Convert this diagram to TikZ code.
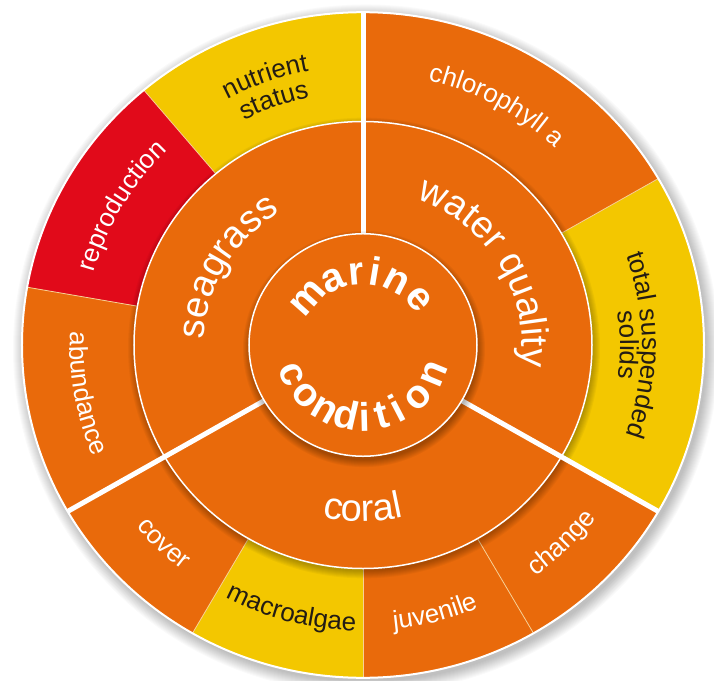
\documentclass[tikz,border=0pt]{standalone}
\usepackage{fontspec}
\setmainfont{Liberation Sans}
\usetikzlibrary{decorations.text}
\definecolor{org}{RGB}{233,106,11}
\definecolor{yel}{RGB}{243,199,0}
\definecolor{rd}{RGB}{225,10,26}
\definecolor{sepc}{RGB}{247,208,150}
\definecolor{dk}{RGB}{35,28,20}
\newcommand\ringA{\fontsize{26}{26}\selectfont}
\newcommand\ringB{\fontsize{38}{38}\selectfont}
\newcommand\txtcw[5]{\path[decorate,decoration={text along path,text align=center,text={|\color{#4}#3|#5}}] ({#1+70}:#2) arc[start angle={#1+70},end angle={#1-70},radius=#2];}
\newcommand\txtccw[5]{\path[decorate,decoration={text along path,text align=center,text={|\color{#4}#3|#5}}] ({#1-70}:#2) arc[start angle={#1-70},end angle={#1+70},radius=#2];}
\newcommand\sector[3]{\fill[#1] (0,0) -- (#2:341) arc[start angle=#2,end angle=#3,radius=341] -- cycle;}
\tikzset{
  ctrtxt/.style={text=white,font=\fontsize{40}{40}\selectfont\bfseries,inner sep=0pt},
  thinsep/.style={draw=sepc,line width=0.8pt},
  thicksep/.style={draw=white,line width=5pt},
  ringline/.style={draw=white,line width=1.5pt}
}
\begin{document}
\begin{tikzpicture}[x=1pt,y=0.976pt]
\fill[white] (-363pt,-335pt) rectangle (351pt,345pt);
\useasboundingbox (-363pt,-335pt) rectangle (351pt,345pt);
% outer shadow
\foreach \i in {0,...,12} \fill[black,opacity=0.02] (3pt,-4pt) circle[radius={341+\i}];
% outer ring sectors
\sector{yel}{-30}{30}
\sector{org}{30}{90}
\sector{yel}{90}{130}
\sector{rd}{130}{170}
\sector{org}{170}{210}
\sector{org}{210}{240}
\sector{yel}{240}{270}
\sector{org}{270}{300}
\sector{org}{300}{330}
\foreach \a in {30,130,170,240,270,300} \draw[thinsep] (\a:229) -- (\a:341);
% middle ring
\foreach \i in {0,...,7} \fill[black,opacity=0.035] (1pt,-3pt) circle[radius={229+\i}];
\fill[org] (0,0) circle[radius=229];
\draw[ringline] (0,0) circle[radius=229];
\foreach \a in {90,210,330} \draw[thicksep] (\a:110) -- (\a:341);
% inner disc
\foreach \i in {0,...,7} \fill[black,opacity=0.04] (1pt,-4pt) circle[radius={114+\i}];
\fill[org] (0,0) circle[radius=114];
\draw[ringline] (0,0) circle[radius=114];
\draw[white,line width=2pt] (0,0) circle[radius=341];
% centre text
\foreach \a/\c [count=\k] in {138.5/m,114/a,95/r,80.5/i,62.5/n,40/e}
  \node[ctrtxt,rotate=\a-90,anchor=base] (mar\k) at (\a:62) {\c};
\foreach \a/\c [count=\k] in {203/c,222/o,240/n,257/d,271.5/i,284.5/t,297.5/i,316/o,337.5/n}
  \node[ctrtxt,rotate=\a+90,anchor=base] (con\k) at (\a:88) {\c};
% middle ring labels
\txtcw{150}{159}{\ringB}{white}{seagrass}
\txtcw{31}{159}{\ringB}{white}{water quality}
\txtccw{270}{181}{\ringB}{white}{coral}
% outer ring labels
\txtcw{61}{279}{\ringA}{white}{chlorophyll a}
\txtcw{110}{286}{\ringA}{dk}{nutrient}
\txtcw{110}{259}{\ringA}{dk}{status}
\txtcw{150}{279}{\ringA}{white}{reproduction}
\txtccw{190}{293}{\ringA}{white}{abundance}
\txtccw{225}{293}{\ringA}{white}{cover}
\txtccw{255}{293}{\ringA}{dk}{macroalgae}
\txtccw{285}{293}{\ringA}{white}{juvenile}
\txtccw{315}{293}{\ringA}{white}{change}
\txtcw{0}{279}{\ringA}{dk}{total suspended}
\txtcw{0}{257}{\ringA}{dk}{solids}
\end{tikzpicture}
\end{document}
